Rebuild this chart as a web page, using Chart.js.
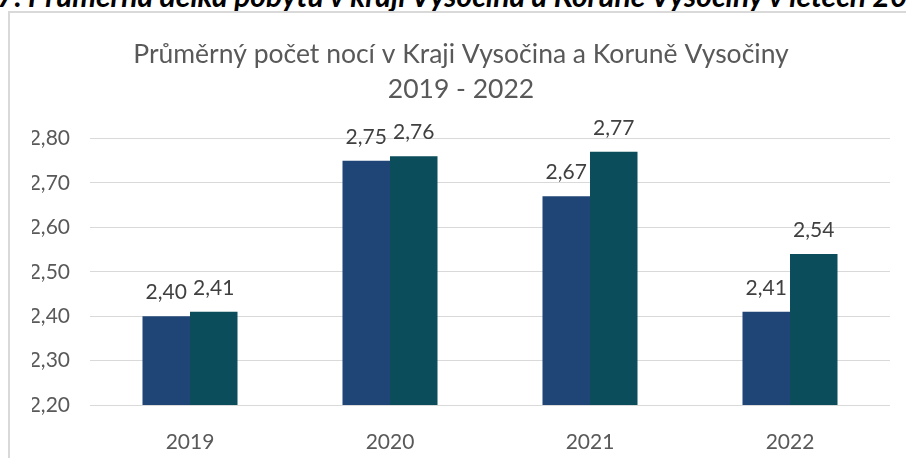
<!DOCTYPE html>
<html>
<head>
<meta charset="utf-8">
<script src="https://cdn.jsdelivr.net/npm/chart.js@4/dist/chart.umd.min.js"></script>
<style>
  html, body { margin: 0; padding: 0; background: #ffffff; overflow: hidden; }
  #wrap { position: relative; width: 906px; height: 458px; overflow: hidden; }
  #heading { position: absolute; left: -3px; top: -23px; white-space: nowrap;
    font: italic bold 30px Lato, "Open Sans", sans-serif; color: #000; }
  #frame { position: absolute; left: 8px; top: 11px; width: 1000px; height: 600px;
    border: 2px solid #d9d9d9; box-sizing: border-box; }
  #cv { position: absolute; left: 0; top: 0; }
</style>
</head>
<body>
<div id="wrap">
  <div id="heading">7. Průměrná délka pobytu v kraji Vysočina a Koruně Vysočiny v letech 2019 - 2022</div>
  <div id="frame"></div>
  <canvas id="cv" width="906" height="458"></canvas>
</div>
<script>
const categories = ["2019", "2020", "2021", "2022"];
const krajVysocina = [2.40, 2.75, 2.67, 2.41];
const korunaVysociny = [2.41, 2.76, 2.77, 2.54];
const seriesNames = ["Kraj Vysočina", "Koruna Vysočiny"];
const titleLines = ["Průměrný počet nocí v Kraji Vysočina a Koruně Vysočiny", "2019 - 2022"];
const yMin = 2.20, yMax = 2.80, yStep = 0.10;

const fmt = v => v.toFixed(2).replace('.', ',');

const labelPlugin = {
  id: 'barLabels',
  afterDatasetsDraw(chart) {
    const ctx = chart.ctx;
    ctx.save();
    ctx.font = '21px Lato, "Open Sans", sans-serif';
    ctx.fillStyle = '#404040';
    ctx.textAlign = 'center';
    ctx.textBaseline = 'alphabetic';
    chart.data.datasets.forEach((ds, i) => {
      const meta = chart.getDatasetMeta(i);
      meta.data.forEach((bar, j) => {
        ctx.fillText(fmt(ds.data[j]), bar.x, bar.y - 17);
      });
    });
    ctx.restore();
  }
};

new Chart(document.getElementById('cv'), {
  type: 'bar',
  data: {
    labels: categories,
    datasets: [
      { label: seriesNames[0], data: krajVysocina, backgroundColor: '#1f4476',
        categoryPercentage: 0.475, barPercentage: 1.0 },
      { label: seriesNames[1], data: korunaVysociny, backgroundColor: '#0b4d5a',
        categoryPercentage: 0.475, barPercentage: 1.0 }
    ]
  },
  options: {
    responsive: false,
    animation: false,
    events: [],
    layout: { padding: { left: 32, right: 16, top: 0, bottom: 0 } },
    plugins: {
      legend: { display: false },
      tooltip: { enabled: false },
      title: {
        display: true,
        text: titleLines,
        color: '#595959',
        font: { family: 'Lato, "Open Sans", sans-serif', size: 26.5, weight: 'normal', lineHeight: 1.33 },
        padding: { top: 37, bottom: 31 }
      }
    },
    scales: {
      x: {
        afterFit(s) { s.height = 53; },
        grid: { display: false },
        border: { display: false },
        ticks: { color: '#595959', font: { family: 'Lato, "Open Sans", sans-serif', size: 21 }, padding: 17 }
      },
      y: {
        min: yMin, max: yMax,
        afterFit(s) { s.width = 58; },
        grid: { color: '#d9d9d9', lineWidth: 1, drawTicks: false },
        border: { display: false },
        ticks: {
          stepSize: yStep,
          color: '#595959',
          font: { family: 'Lato, "Open Sans", sans-serif', size: 21 },
          padding: 20,
          callback: v => fmt(v)
        }
      }
    }
  },
  plugins: [labelPlugin]
});
</script>
</body>
</html>
